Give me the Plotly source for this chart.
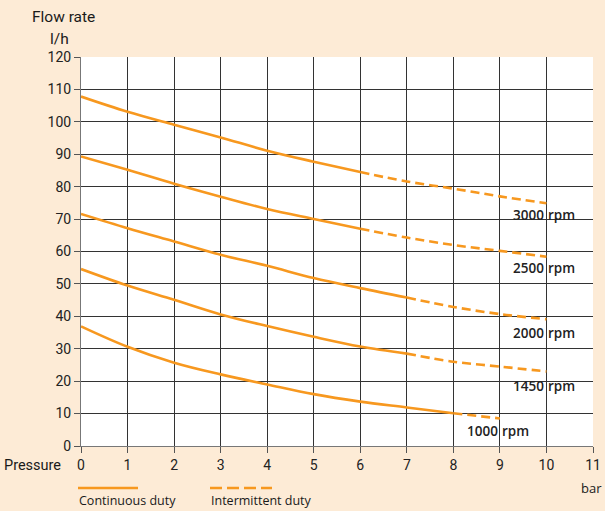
import plotly.graph_objects as go

# ---- data ----
pressure_bar = [0, 1, 2, 3, 4, 5, 6, 7, 8, 9, 10]
speeds = ["3000", "2500", "2000", "1450", "1000"]
flow_3000 = [107.8, 103.1, 99.1, 95.2, 91.1, 87.7, 84.5, 81.6, 79.4, 77.0, 74.9]
flow_2500 = [89.3, 85.2, 80.9, 76.9, 73.1, 70.0, 67.0, 64.3, 62.0, 60.2, 58.4]
flow_2000 = [71.6, 67.2, 63.1, 59.0, 55.6, 51.8, 48.7, 45.8, 42.9, 40.7, 39.1]
flow_1450 = [54.6, 49.5, 45.1, 40.6, 37.0, 33.7, 30.7, 28.5, 26.0, 24.5, 23.0]
flow_1000 = [36.9, 30.6, 25.7, 22.1, 19.0, 16.0, 13.7, 11.9, 10.1, 8.5]
continuous_limit = [6, 6, 7, 7, 8]          # bar: continuous duty up to here
label_x = [10, 10, 10, 10, 9]               # where each rpm label sits
label_y = [71.3, 54.8, 34.8, 18.5, 4.6]
x_ticks = list(range(0, 12))
y_ticks = list(range(0, 130, 10))

series = [flow_3000, flow_2500, flow_2000, flow_1450, flow_1000]

ORANGE = "#f7981f"
BG = "#fdebd6"
GRID = "#333333"
NARROW = "Roboto, Liberation Sans, sans-serif"
MYRIAD = "Open Sans, Noto Sans, sans-serif"

fig = go.Figure()
for vals, lim in zip(series, continuous_limit):
    xs = pressure_bar[:len(vals)]
    cx = [x for x in xs if x <= lim]
    cy = vals[:len(cx)]
    dx = [x for x in xs if x >= lim]
    dy = vals[len(cx) - 1:]
    fig.add_trace(go.Scatter(x=cx, y=cy, mode="lines",
                             line=dict(color=ORANGE, width=2.6, shape="spline"),
                             showlegend=False, hoverinfo="skip"))
    fig.add_trace(go.Scatter(x=dx, y=dy, mode="lines",
                             line=dict(color=ORANGE, width=2.6, shape="spline", dash="9px,5px"),
                             showlegend=False, hoverinfo="skip"))

annotations = []
for sp, lx, ly in zip(speeds, label_x, label_y):
    annotations.append(dict(x=lx, y=ly, xref="x", yref="y", text=sp, showarrow=False,
                            xanchor="right", yanchor="middle", xshift=0,
                            font=dict(family=MYRIAD, size=13.5, color="#222", weight=600)))
    annotations.append(dict(x=lx, y=ly, xref="x", yref="y", text="rpm", showarrow=False,
                            xanchor="left", yanchor="middle", xshift=0,
                            font=dict(family=MYRIAD, size=13.5, color="#222", weight=600)))

L, R, T, B = 81, 12, 57, 65
PW, PH = 605 - L - R, 511 - T - B

def xp(x):
    return (x - L) / PW

def yp(y):
    return (511 - B - y) / PH

def px_ann(text, x, y, size, family, anchor="left"):
    annotations.append(dict(x=xp(x), y=yp(y), xref="paper", yref="paper",
                            text=text, showarrow=False, xanchor=anchor, yanchor="middle",
                            font=dict(family=family, size=size, color="#1a1a1a")))

px_ann("Flow rate", 63, 17, 15.5, NARROW, "center")
px_ann("l/h", 71, 39, 15.5, NARROW, "right")
px_ann("Pressure", 63, 465, 14.5, NARROW, "right")
px_ann("bar", 604, 488, 13, MYRIAD, "right")
px_ann("Continuous duty", 77, 500, 12.5, MYRIAD, "left")
px_ann("Intermittent duty", 209, 500, 12.5, MYRIAD, "left")

shapes = [
    dict(type="line", xref="paper", yref="paper", x0=xp(78), x1=xp(138), y0=yp(488), y1=yp(488),
         line=dict(color=ORANGE, width=2.6)),
    dict(type="line", xref="paper", yref="paper", x0=xp(210), x1=xp(272), y0=yp(488), y1=yp(488),
         line=dict(color=ORANGE, width=2.6, dash="12px,5px")),
]

fig.update_layout(
    width=605, height=511, autosize=False,
    margin=dict(l=L, r=R, t=T, b=B, pad=0),
    paper_bgcolor=BG, plot_bgcolor="white",
    annotations=annotations, shapes=shapes,
    xaxis=dict(range=[0, 11], tickvals=x_ticks, showgrid=True, gridcolor=GRID, gridwidth=1,
               zeroline=False, showline=True, linecolor="#777", linewidth=1, mirror=False,
               ticks="outside", ticklen=6, tickcolor="#555", automargin=False,
               tickfont=dict(family=NARROW, size=14, color="#222")),
    yaxis=dict(range=[0, 120], tickvals=y_ticks, showgrid=True, gridcolor=GRID, gridwidth=1,
               zeroline=False, showline=True, linecolor="#777", linewidth=1,
               ticks="outside", ticklen=6, tickcolor="#555", automargin=False,
               tickfont=dict(family=NARROW, size=14, color="#222")),
)

fig.write_html("out.html", config={"displayModeBar": False},
               post_script="document.body.style.margin='0';document.body.style.overflow='hidden';")
